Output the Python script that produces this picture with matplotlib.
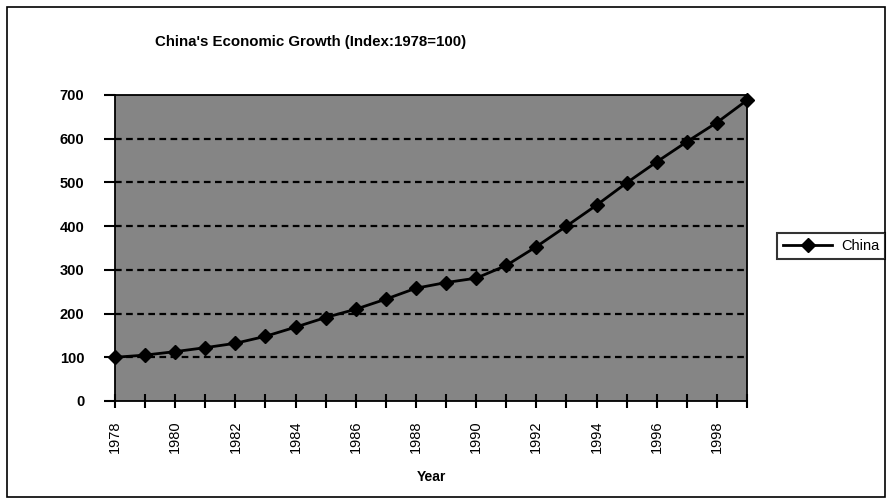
import numpy as np
import matplotlib.pyplot as plt
from matplotlib.patches import Rectangle

plt.rcParams['font.family'] = ['Liberation Sans', 'DejaVu Sans']

years = list(range(1978, 2000))
china = [100, 105, 113, 122, 132, 148, 169, 191, 210, 233, 258, 271,
         281, 310, 353, 400, 448, 499, 547, 593, 637, 688]
year_labels = [str(y) if y % 2 == 0 else '' for y in years]
y_ticks = [0, 100, 200, 300, 400, 500, 600, 700]

W, H = 890, 500
fig = plt.figure(figsize=(8.9, 5.0), dpi=100)
ax = fig.add_axes([115 / W, 1 - 401 / H, (747 - 115) / W, (401 - 95) / H])
ax.set_facecolor('#858585')

ax.plot(years, china, color='black', lw=2, marker='D', ms=7,
        label='China', clip_on=False, zorder=3)

ax.set_xlim(1978, 1999)
ax.set_ylim(0, 700)
ax.set_xticks(years)
ax.set_xticklabels(year_labels, rotation=90, fontsize=10.5)
ax.set_yticks(y_ticks)
ax.set_yticklabels([str(v) for v in y_ticks], fontsize=10.5, fontweight='bold')
ax.tick_params(axis='x', direction='inout', length=10, width=1.5, pad=9)
ax.tick_params(axis='y', direction='out', length=8, width=1.5, pad=14)
for s in ax.spines.values():
    s.set_linewidth(1.3)
    s.set_color('black')

for v in y_ticks[1:-1]:
    ax.axhline(v, color='black', lw=1.6, ls=(0, (3, 2)), zorder=1)

ax.set_xlabel('Year', fontsize=10, fontweight='bold', labelpad=12)

fig.text(311 / W, 1 - 42 / H, "China's Economic Growth (Index:1978=100)",
         ha='center', va='center', fontsize=10.8, fontweight='bold')

leg = fig.legend(loc='center', bbox_to_anchor=(831 / W, 1 - 246 / H),
                 fontsize=10.5, frameon=True, fancybox=False, edgecolor='black',
                 handlelength=3.4, borderpad=0.4, handletextpad=0.6)
leg.get_frame().set_linewidth(1.5)

fig.patches.append(Rectangle((7 / W, 3 / H), 878 / W, 490 / H, fill=False,
                             edgecolor='black', lw=1.2,
                             transform=fig.transFigure))

fig.savefig('out.png', dpi=100)
